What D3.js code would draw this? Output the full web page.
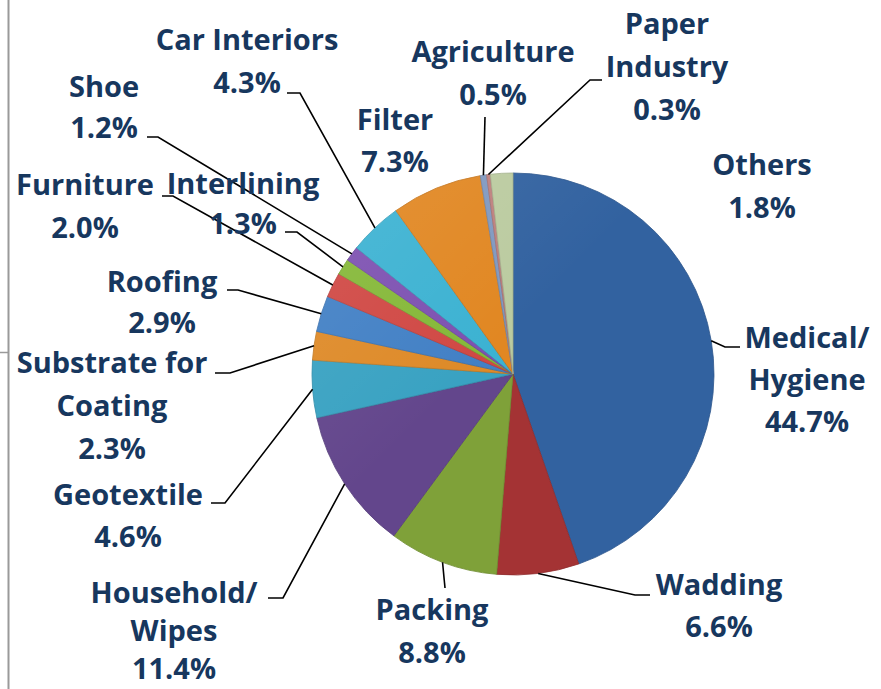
<!DOCTYPE html>
<html><head><meta charset="utf-8">
<script src="https://cdn.jsdelivr.net/npm/d3@7"></script>
<style>
html,body{margin:0;padding:0;background:#fff;}
svg{display:block;}
</style></head>
<body>
<svg id="chart" width="881" height="689"></svg>
<script>
// ---- data ----
const categories = ["Medical/Hygiene","Wadding","Packing","Household/Wipes","Geotextile","Substrate for Coating","Roofing","Furniture","Interlining","Shoe","Car Interiors","Filter","Agriculture","Paper Industry","Others"];
const values = [44.7, 6.6, 8.8, 11.4, 4.6, 2.3, 2.9, 2.0, 1.3, 1.2, 4.3, 7.3, 0.5, 0.3, 1.8];
const labelLines = [["Medical/","Hygiene"],["Wadding"],["Packing"],["Household/","Wipes"],["Geotextile"],["Substrate for","Coating"],["Roofing"],["Furniture"],["Interlining"],["Shoe"],["Car Interiors"],["Filter"],["Agriculture"],["Paper","Industry"],["Others"]];
const colors = ["#386db2","#b7393a","#8db33f","#6e4e9c","#3fb4d8","#f79a2c","#4a8fdb","#e8504c","#94cd3e","#8b5ac5","#43c6ea","#fa9626","#8eaad6","#d48e8c","#d0e2b2"];

// ---- layout (label centre x, first baseline y, line step, leader elbow) ----
const labelPos = [
  {x:807, y:348, step:42, anchor:[725,347], end:[740,347]},
  {x:719, y:595, step:42, anchor:[635,595], end:[650,595]},
  {x:432, y:620, step:43, anchor:[445,588], end:null},
  {x:174, y:603, step:38, anchor:[283,598], end:[268,598]},
  {x:128, y:505, step:42, anchor:[225,503], end:[211,503]},
  {x:112, y:373, step:43, anchor:[230,373], end:[215,373]},
  {x:162, y:292, step:41, anchor:[238,290], end:[227,290]},
  {x:85,  y:195, step:43, anchor:[173,196], end:[162,196]},
  {x:243, y:194, step:40, anchor:[297,232], end:[285,232]},
  {x:104, y:97,  step:41, anchor:[158,137], end:[147,137]},
  {x:247, y:50,  step:43, anchor:[300,93],  end:[287,93]},
  {x:395, y:130, step:42, anchor:null, end:null},
  {x:493, y:62,  step:43, anchor:[485,117], end:null},
  {x:667, y:34,  step:43, anchor:[590,80],  end:[602,80]},
  {x:762, y:175, step:43, anchor:null, end:null}
];

const svg = d3.select("#chart");
const W = 881, H = 689;
const cx = 513, cy = 374, R = 201;

// frame lines
svg.append("line").attr("x1",8.5).attr("x2",8.5).attr("y1",0).attr("y2",H).attr("stroke","#9a9a9a").attr("stroke-width",2);
svg.append("line").attr("x1",0).attr("x2",8).attr("y1",352.5).attr("y2",352.5).attr("stroke","#9a9a9a").attr("stroke-width",1.5);

const data = categories.map((c,i)=>({name:c, value:values[i], color:colors[i], lines:labelLines[i], pos:labelPos[i]}));

const pie = d3.pie().value(d=>d.value).sort(null).startAngle(0).endAngle(2*Math.PI);
const arcs = pie(data);
const arc = d3.arc().innerRadius(0).outerRadius(R);
const arcEdge = d3.arc().innerRadius(R).outerRadius(R);

const defs = svg.append("defs");
// per-slice bevel gradients
arcs.forEach((a,i)=>{
  const c = d3.color(a.data.color);
  const g = defs.append("radialGradient").attr("id","g"+i)
    .attr("gradientUnits","userSpaceOnUse").attr("cx",cx).attr("cy",cy).attr("r",R);
  g.append("stop").attr("offset","0%").attr("stop-color",c);
  g.append("stop").attr("offset","88%").attr("stop-color",c);
  g.append("stop").attr("offset","95%").attr("stop-color",c.brighter(0.2));
  g.append("stop").attr("offset","100%").attr("stop-color",c.darker(0.3));
});
const shine = defs.append("linearGradient").attr("id","shine").attr("x1","0").attr("y1","0").attr("x2","1").attr("y2","1");
shine.append("stop").attr("offset","0%").attr("stop-color","#fff").attr("stop-opacity",0.1);
shine.append("stop").attr("offset","45%").attr("stop-color","#fff").attr("stop-opacity",0);
shine.append("stop").attr("offset","100%").attr("stop-color","#fff").attr("stop-opacity",0);

const gPie = svg.append("g").attr("transform",`translate(${cx},${cy})`);
gPie.selectAll("path.slice").data(arcs).join("path")
  .attr("class","slice")
  .attr("d",arc)
  .attr("fill",(d,i)=>`url(#g${i})`)
  .attr("stroke",d=>d3.color(d.data.color).darker(0.7))
  .attr("stroke-width",0.8)
  .attr("stroke-linejoin","round");
gPie.append("circle").attr("r",R).attr("fill","url(#shine)").attr("pointer-events","none");

// leader lines
const gLines = svg.append("g");
arcs.forEach(a=>{
  const p = a.data.pos;
  if(!p.anchor) return;
  const m = arcEdge.centroid(a);
  const pts = [[cx+m[0], cy+m[1]], p.anchor];
  if(p.end) pts.push(p.end);
  gLines.append("path").attr("d",d3.line()(pts)).attr("fill","none")
    .attr("stroke","#000").attr("stroke-width",1.6);
});

// labels
const gText = svg.append("g")
  .attr("font-family","'Open Sans', 'Lato', sans-serif")
  .attr("font-weight","700").attr("font-size",29).attr("fill","#17375e")
  .attr("text-anchor","middle");
arcs.forEach(a=>{
  const p = a.data.pos;
  const lines = a.data.lines.concat([d3.format(".1f")(a.data.value)+"%"]);
  lines.forEach((t,k)=>{
    gText.append("text").attr("x",p.x).attr("y",p.y+k*p.step).text(t);
  });
});
</script>
</body></html>
